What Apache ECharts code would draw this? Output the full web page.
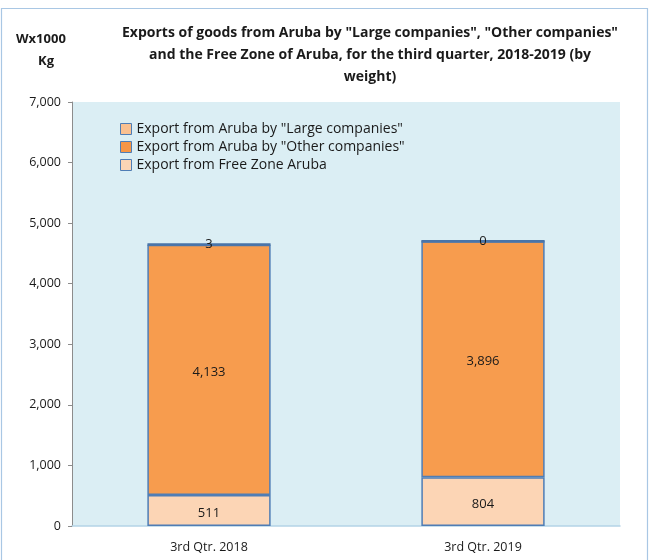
<!DOCTYPE html>
<html><head><meta charset="utf-8">
<script src="https://cdn.jsdelivr.net/npm/echarts@6/dist/echarts.min.js"></script>
<style>html,body{margin:0;padding:0;background:#fff}#c{width:649px;height:560px}</style>
</head><body><div id="c"></div>
<script>
const categories = ["3rd Qtr. 2018", "3rd Qtr. 2019"];
const largeCompanies = [511, 804];
const otherCompanies = [4133, 3896];
const freeZone = [3, 0];
const seriesNames = ['Export from Aruba by "Large companies"', 'Export from Aruba by "Other companies"', 'Export from Free Zone Aruba'];
const yTicks = { min: 0, max: 7000, interval: 1000 };

const FONT = '"Open Sans", "Liberation Sans", sans-serif';
const chart = echarts.init(document.getElementById('c'), null, {renderer: 'canvas'});
const fmt = v => v.toLocaleString('en-US');
const border = '#4F7DB5';
chart.setOption({
  animation: false,
  textStyle: { fontFamily: FONT },
  title: {
    text: 'Exports of goods from Aruba by "Large companies", "Other companies"\nand the Free Zone of Aruba, for the third quarter, 2018-2019 (by\nweight)',
    left: 365, top: 17, textAlign: 'center',
    textStyle: { fontSize: 14, fontWeight: 'bold', color: '#1a1a1a', lineHeight: 22, fontFamily: FONT }
  },
  graphic: [
    { type: 'rect', shape: { x: 1.5, y: 8.5, width: 646, height: 580 }, style: { fill: 'none', stroke: '#A9C7E4', lineWidth: 1.2 }, silent: true },
    { type: 'text', left: 16, top: 33, style: { text: 'Wx1000', font: 'bold 13px ' + FONT, fill: '#1a1a1a' } },
    { type: 'text', left: 38, top: 55, style: { text: 'Kg', font: 'bold 13px ' + FONT, fill: '#1a1a1a' } }
  ],
  legend: {
    orient: 'vertical', left: 115, top: 117, itemGap: 4, itemWidth: 11, itemHeight: 11,
    icon: 'rect',
    textStyle: { fontSize: 14, color: '#1a1a1a', fontFamily: FONT },
    data: [
      { name: seriesNames[0], itemStyle: { color: '#FAC090', borderColor: border, borderWidth: 1 } },
      { name: seriesNames[1], itemStyle: { color: '#F79646', borderColor: border, borderWidth: 1 } },
      { name: seriesNames[2], itemStyle: { color: '#FCD5B5', borderColor: border, borderWidth: 1 } }
    ]
  },
  grid: { left: 72, right: 29, top: 102, bottom: 34, show: true, backgroundColor: '#DBEEF4', borderWidth: 0 },
  xAxis: {
    type: 'category', data: categories,
    axisLine: { lineStyle: { color: '#B4D3E6', width: 1.5 } },
    axisTick: { show: false },
    axisLabel: { fontSize: 12.5, color: '#1a1a1a', margin: 15, fontFamily: FONT }
  },
  yAxis: {
    type: 'value', min: yTicks.min, max: yTicks.max, interval: yTicks.interval,
    axisLine: { show: true, lineStyle: { color: '#8C8C8C' } },
    axisTick: { show: true, length: 4, lineStyle: { color: '#8C8C8C' } },
    splitLine: { show: false },
    axisLabel: { fontSize: 12.5, color: '#1a1a1a', margin: 11, formatter: v => fmt(v), fontFamily: FONT }
  },
  series: [
    { name: seriesNames[0], type: 'bar', stack: 's', data: largeCompanies, barWidth: '45%',
      itemStyle: { color: '#FCD5B5', borderColor: border, borderWidth: 1.5 },
      label: { show: true, position: 'inside', offset: [0, 3], formatter: p => fmt(p.value), fontSize: 13, color: '#1a1a1a', fontFamily: FONT } },
    { name: seriesNames[1], type: 'bar', stack: 's', data: otherCompanies,
      itemStyle: { color: '#F79C4E', borderColor: border, borderWidth: 1.5 },
      label: { show: true, position: 'inside', offset: [0, 2], formatter: p => fmt(p.value), fontSize: 13, color: '#1a1a1a', fontFamily: FONT } },
    { name: seriesNames[2], type: 'bar', stack: 's', data: freeZone,
      itemStyle: { color: '#4F7DB5', borderColor: '#4A74A8', borderWidth: 2.5 },
      label: { show: true, position: 'inside', formatter: p => fmt(p.value), fontSize: 13, color: '#1a1a1a', fontFamily: FONT } }
  ]
});
</script></body></html>
